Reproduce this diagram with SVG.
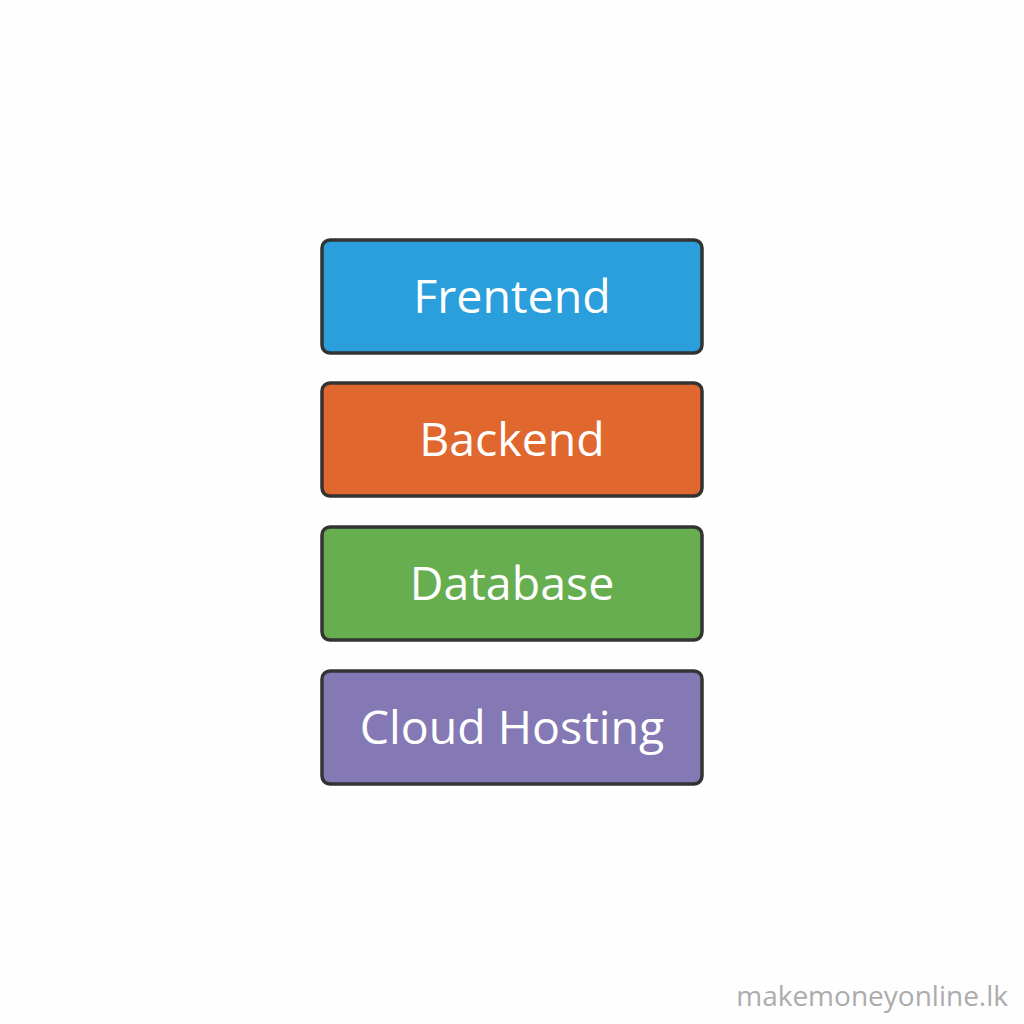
<svg xmlns="http://www.w3.org/2000/svg" width="1024" height="1024" viewBox="0 0 1024 1024">
<style>
.box{stroke:#333;stroke-width:3.5}
.lbl{font-family:"Open Sans","Noto Sans",sans-serif;font-size:46.5px;fill:#fff;text-anchor:middle}
.wm{font-family:"Open Sans","Noto Sans",sans-serif;font-size:28px;fill:#acacac;text-anchor:end}
</style>
<rect width="1024" height="1024" fill="#fefefe"/>
<g id="frontend"><rect class="box" x="322" y="240" width="380" height="113" rx="8" fill="#2a9fdc"/><text class="lbl" x="512" y="313">Frentend</text></g>
<g id="backend"><rect class="box" x="322" y="383" width="380" height="113" rx="8" fill="#e0672e"/><text class="lbl" x="512" y="456">Backend</text></g>
<g id="database"><rect class="box" x="322" y="527" width="380" height="113" rx="8" fill="#66ae50"/><text class="lbl" x="512" y="600">Database</text></g>
<g id="cloud"><rect class="box" x="322" y="671" width="380" height="113" rx="8" fill="#8479b4"/><text class="lbl" x="512" y="744">Cloud Hosting</text></g>
<g id="connectors"/>
<text class="wm" x="1008" y="1006">makemoneyonline.lk</text>
</svg>
